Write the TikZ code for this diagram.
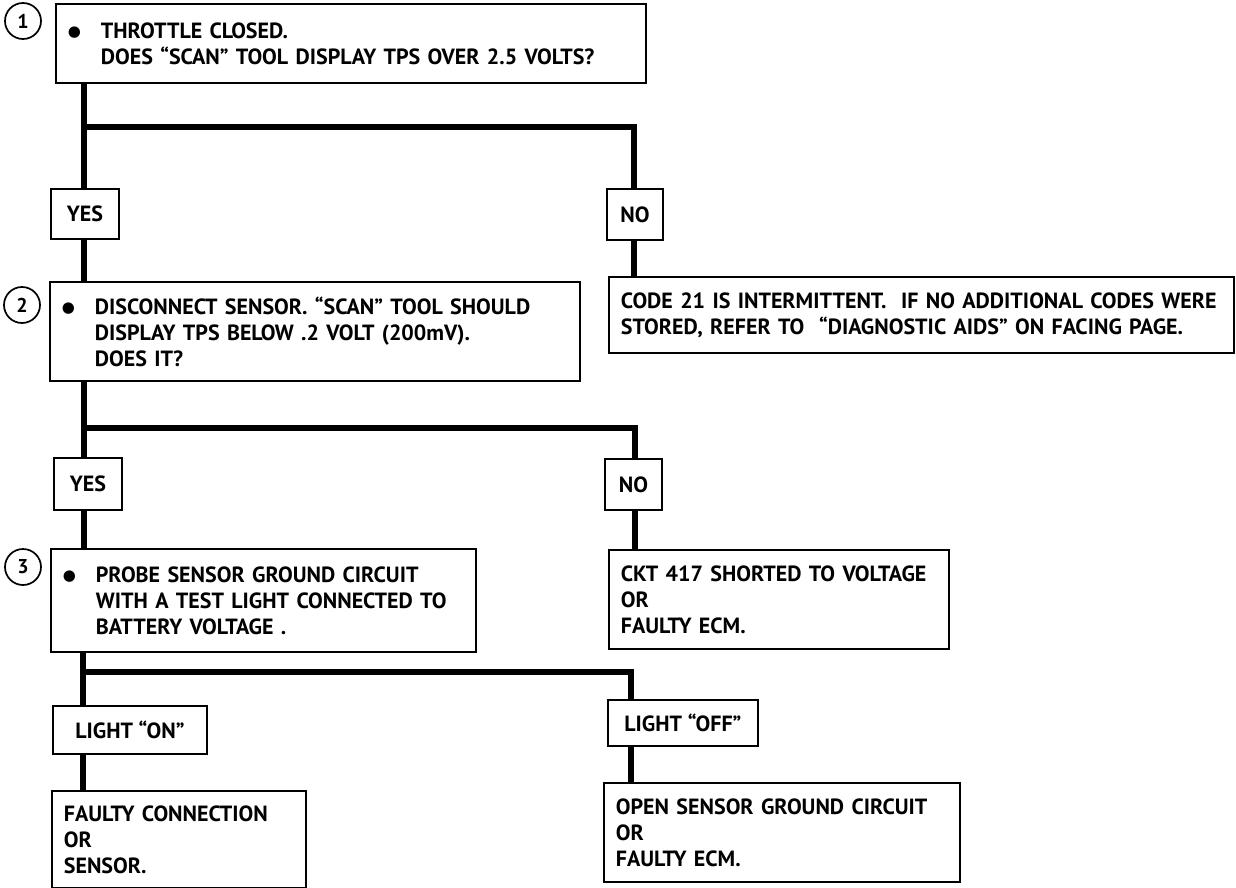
\documentclass[tikz,border=0pt]{standalone}
\usepackage{fontspec}
\setmainfont{PT Sans}
\newfontfamily\djfont{DejaVu Sans}
\newcommand\fs{\bfseries\fontsize{22}{26}\selectfont}
\newcommand\bul{\makebox[33pt][l]{\raisebox{1.5pt}{\djfont\fontsize{15}{26}\selectfont ●}}}
\newcommand\ind{\hspace*{33pt}}
\begin{document}
\begin{tikzpicture}[x=1pt,y=-1pt,
  box/.style={draw, line width=1.8pt, inner xsep=12pt, inner ysep=0pt, anchor=north west, align=left, font=\fs},
  lbl/.style={draw, line width=1.8pt, anchor=north west, inner sep=0pt, font=\fs},
  num/.style={draw, circle, line width=1.7pt, minimum size=36pt, inner sep=0pt, font=\bfseries\fontsize{20}{22}\selectfont},
  trunk/.style={line width=6.5pt, line join=miter}]
\useasboundingbox (0,0) rectangle (1236,888);

% numbered circles
\node[num] (n1) at (23,21) {1};
\node[num] (n2) at (22,305) {2};
\node[num] (n3) at (23,567) {3};

% main boxes
\node[box, minimum width=590pt, minimum height=79pt, text width=566pt] (b1) at (55,3)
  {\bul THROTTLE CLOSED.\\\ind DOES “SCAN” TOOL DISPLAY TPS OVER 2.5 VOLTS?};
\node[box, minimum width=530pt, minimum height=99pt, text width=506pt] (b2) at (49,281)
  {\bul DISCONNECT SENSOR. “SCAN” TOOL SHOULD\\\ind DISPLAY TPS BELOW .2 VOLT (200mV).\\\ind DOES IT?};
\node[box, minimum width=425pt, minimum height=103pt, text width=401pt] (b3) at (50,548)
  {\bul PROBE SENSOR GROUND CIRCUIT\\\ind WITH A TEST LIGHT CONNECTED TO\\\ind BATTERY VOLTAGE .};
\node[box, minimum width=625pt, minimum height=76pt, text width=601pt] (code) at (608,276)
  {CODE 21 IS INTERMITTENT.\ \ IF NO ADDITIONAL CODES WERE\\STORED, REFER TO\ \ “DIAGNOSTIC AIDS” ON FACING PAGE.};
\node[box, minimum width=340pt, minimum height=99pt, text width=316pt] (ckt) at (608,549)
  {CKT 417 SHORTED TO VOLTAGE\\OR\\FAULTY ECM.};
\node[box, minimum width=254pt, minimum height=97pt, text width=230pt] (faulty) at (51,790)
  {FAULTY CONNECTION\\OR\\SENSOR.};
\node[box, minimum width=356pt, minimum height=99pt, text width=332pt] (open) at (603,782)
  {OPEN SENSOR GROUND CIRCUIT\\OR\\FAULTY ECM.};

% answer labels
\node[lbl, minimum width=68pt, minimum height=50pt] (yes1) at (50,188) {YES};
\node[lbl, minimum width=56pt, minimum height=51pt] (no1) at (606,188) {NO};
\node[lbl, minimum width=68pt, minimum height=52pt] (yes2) at (53,457) {YES};
\node[lbl, minimum width=57pt, minimum height=51pt] (no2) at (604,458) {NO};
\node[lbl, minimum width=154pt, minimum height=48pt] (lon) at (52,705) {LIGHT “ON”};
\node[lbl, minimum width=150pt, minimum height=46pt] (loff) at (607,699) {LIGHT “OFF”};

% junction coordinates
\coordinate (j1) at (84,127);  \coordinate (k1) at (634,127);
\coordinate (j2) at (84,428);  \coordinate (k2) at (635,428);
\coordinate (j3) at (83,672);  \coordinate (k3) at (631,672);

% connectors
\draw[trunk] (b1.south -| j1) -- (yes1.north -| j1);
\draw[trunk] (j1) -- (k1) -- (no1.north -| k1);
\draw[trunk] (yes1.south -| j1) -- (b2.north -| j1);
\draw[trunk] (no1.south -| k1) -- (code.north -| k1);

\draw[trunk] (b2.south -| j2) -- (yes2.north -| j2);
\draw[trunk] (j2) -- (k2) -- (no2.north -| k2);
\draw[trunk] (yes2.south -| j2) -- (b3.north -| j2);
\draw[trunk] (no2.south -| k2) -- (ckt.north -| k2);

\draw[trunk] (b3.south -| j3) -- (lon.north -| j3);
\draw[trunk] (j3) -- (k3) -- (loff.north -| k3);
\draw[trunk] (lon.south -| j3) -- (faulty.north -| j3);
\draw[trunk] (loff.south -| k3) -- (open.north -| k3);
\end{tikzpicture}
\end{document}
